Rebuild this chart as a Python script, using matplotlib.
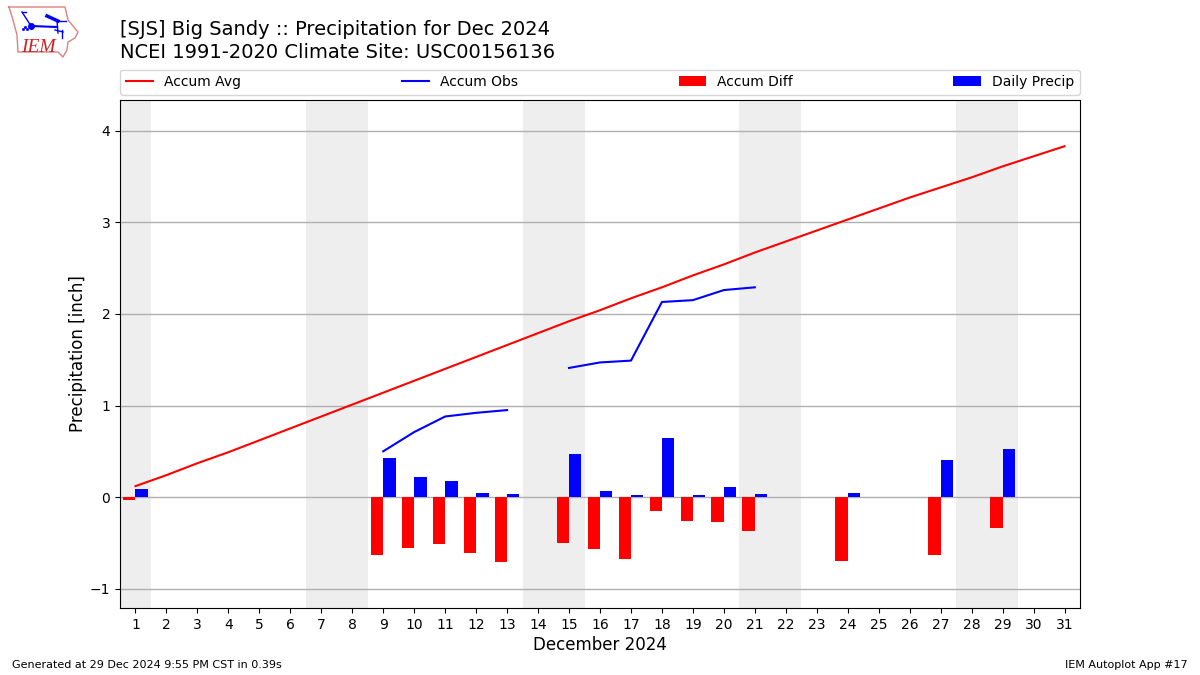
import numpy as np
import matplotlib.pyplot as plt

days = np.arange(1, 32)
weekend_starts = [0.5, 6.5, 13.5, 20.5, 27.5]
weekend_ends = [1.5, 8.5, 15.5, 22.5, 29.5]
# Accumulated precip, inches
accum_avg = [0.12, 0.24, 0.37, 0.49, 0.62, 0.75, 0.88, 1.01, 1.14, 1.27, 1.40,
             1.53, 1.66, 1.79, 1.92, 2.04, 2.17, 2.29, 2.42, 2.54, 2.67, 2.79,
             2.91, 3.03, 3.15, 3.27, 3.38, 3.49, 3.61, 3.72, 3.83]
obs_days_a = [9, 10, 11, 12, 13]
obs_vals_a = [0.50, 0.71, 0.88, 0.92, 0.95]
obs_days_b = [15, 16, 17, 18, 19, 20, 21]
obs_vals_b = [1.41, 1.47, 1.49, 2.13, 2.15, 2.26, 2.29]
bar_days = [1, 9, 10, 11, 12, 13, 15, 16, 17, 18, 19, 20, 21, 24, 27, 29]
accum_diff = [-0.03, -0.63, -0.56, -0.51, -0.61, -0.71, -0.50, -0.57, -0.68,
              -0.15, -0.26, -0.27, -0.37, -0.70, -0.63, -0.34]
daily_precip = [0.09, 0.43, 0.22, 0.18, 0.04, 0.03, 0.47, 0.07, 0.02, 0.64,
                0.02, 0.11, 0.03, 0.04, 0.41, 0.53]

fig = plt.figure(figsize=(12, 6.75), dpi=100)
ax = fig.add_axes([0.1, 0.0993, 0.8, 0.7526])

for start, end in zip(weekend_starts, weekend_ends):
    ax.axvspan(start, end, color='#eeeeee', lw=0, zorder=0)

ax.plot(days, accum_avg, color='r', lw=1.5, label='Accum Avg', zorder=3)
ax.plot(obs_days_a, obs_vals_a, color='b', lw=1.5, label='Accum Obs', zorder=3)
ax.plot(obs_days_b, obs_vals_b, color='b', lw=1.5, zorder=3)
ax.bar(bar_days, accum_diff, width=-0.4, align='edge', color='r',
       label='Accum Diff', zorder=3)
ax.bar(bar_days, daily_precip, width=0.4, align='edge', color='b',
       label='Daily Precip', zorder=3)

ax.set_xlim(0.5, 31.5)
ax.set_ylim(-1.21, 4.335)
ax.set_xticks(days)
ax.set_yticks([-1, 0, 1, 2, 3, 4])
ax.set_yticklabels(['\u22121', '0', '1', '2', '3', '4'])
ax.grid(True, axis='y', color='#b0b0b0', lw=1.0, zorder=1)
ax.set_axisbelow(True)
ax.set_xlabel('December 2024', fontsize=12, labelpad=2.8)
ax.set_ylabel('Precipitation [inch]', fontsize=12, labelpad=2)

ax.legend(loc='lower left', bbox_to_anchor=(0, 1.0105, 1, 0.05), ncol=4,
          mode='expand', borderaxespad=0, fontsize=10)

fig.text(0.1, 0.9085, '[SJS] Big Sandy :: Precipitation for Dec 2024\n'
         'NCEI 1991-2020 Climate Site: USC00156136', fontsize=14,
         va='bottom', ha='left', linespacing=1.25)
fig.text(0.01, 0.01, 'Generated at 29 Dec 2024 9:55 PM CST in 0.39s', fontsize=8)
fig.text(0.99, 0.01, 'IEM Autoplot App #17', fontsize=8, ha='right')

# Rough IEM logo, in pixel coords of the original image
logo = fig.add_axes([0, 0.9, 0.07, 0.1])
logo.set_xlim(0, 84)
logo.set_ylim(67.5, 0)
logo.axis('off')
outline_x = [9, 65, 68, 78, 75, 68, 67, 63, 58, 18, 17, 13, 9]
outline_y = [7, 7, 20, 32, 38, 42, 50, 57, 52, 52, 35, 20, 7]
logo.plot(outline_x, outline_y, color='#e08080', lw=1)
logo.plot([31, 57], [26, 27], color='b', lw=1.5)
logo.plot([22, 31], [12, 26], color='b', lw=1)
logo.plot([22, 26], [12, 12], color='b', lw=1)
logo.plot([47, 58], [16, 21], color='b', lw=2.5)
logo.plot([58, 66], [21, 21], color='b', lw=1)
logo.plot([57, 58], [21, 33], color='b', lw=1)
logo.plot([55, 63], [30, 32], color='b', lw=1)
logo.plot([62, 62], [30, 38], color='b', lw=1)
logo.plot([31], [26], 'o', color='b', ms=4)
logo.plot([23, 25, 27], [29, 27, 29], 's', color='b', ms=1)
logo.text(21, 52, 'IEM', color='#cc2222', family='Liberation Serif',
          style='italic', fontsize=14)

fig.savefig('out.png', dpi=100)
